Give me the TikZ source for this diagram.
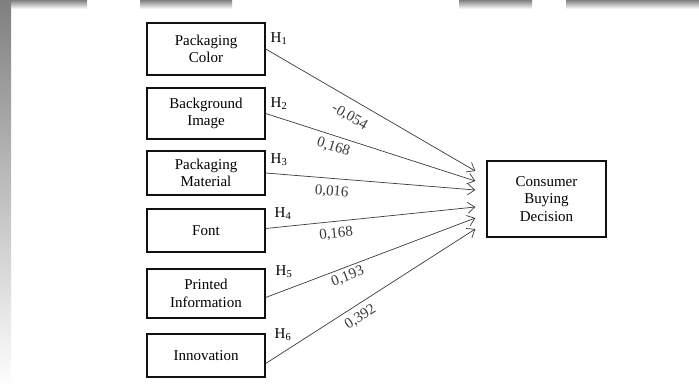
\documentclass[tikz,border=0pt]{standalone}
\usepackage{fontspec}
\setmainfont{Liberation Serif}
\usepackage{tikz}
\usetikzlibrary{positioning,arrows.meta,calc}
\definecolor{ink}{HTML}{111111}
\definecolor{wire}{HTML}{3A3A3A}
\definecolor{shade}{HTML}{CDCDCD}
\tikzset{
  box/.style={draw=ink,line width=1.4pt,minimum width=118pt,inner sep=1pt,align=center,font=\fontsize{15}{17.5}\selectfont},
  note/.style={font=\fontsize{15}{17}\selectfont,inner sep=2pt},
  hyp/.style={font=\fontsize{15}{17}\selectfont,inner sep=0pt},
  arr/.style={-{Straight Barb[length=7pt,width=11pt]},line width=0.7pt,wire},
}
\begin{document}
\begin{tikzpicture}[x=1pt,y=-1pt]
\useasboundingbox (0,0) rectangle (699,389);
% frame of the screenshot
\fill[shade] (0,0) rectangle (87,9);
\fill[shade] (140,0) rectangle (232,9);
\fill[shade] (459,0) rectangle (532,9);
\fill[shade] (566,0) rectangle (699,9);
\fill[shade] (0,0) rectangle (11,388);
\node[box,minimum height=52pt] (f1) at (206,49) {Packaging\\Color};
\node[box,minimum height=51pt] (f2) at (206,113.5) {Background\\Image};
\node[box,minimum height=44pt] (f3) at (206,173) {Packaging\\Material};
\node[box,minimum height=43pt] (f4) at (206,230.5) {Font};
\node[box,minimum height=49pt] (f5) at (206,293.5) {Printed\\Information};
\node[box,minimum height=43pt] (f6) at (206,355.5) {Innovation};
\node[box,minimum width=119pt,minimum height=76pt] (y) at (546.5,199) {Consumer\\Buying\\Decision};
\node[hyp] (h1) at (279,39) {H\textsubscript{1}};
\node[hyp] (h2) at (279,104) {H\textsubscript{2}};
\node[hyp] (h3) at (279,160) {H\textsubscript{3}};
\node[hyp] (h4) at (283,214) {H\textsubscript{4}};
\node[hyp] (h5) at (284,272) {H\textsubscript{5}};
\node[hyp] (h6) at (283,335) {H\textsubscript{6}};
\coordinate (t1) at ($(y.west)+(-11,-28)$);
\coordinate (t2) at ($(y.west)+(-11,-18)$);
\coordinate (t3) at ($(y.west)+(-11,-9)$);
\coordinate (t4) at ($(y.west)+(-11,8)$);
\coordinate (t5) at ($(y.west)+(-11,19)$);
\coordinate (t6) at ($(y.west)+(-11,30)$);
\draw[arr] (f1.east) -- node[note,below=8pt,sloped,pos=.44]{-0,054} (t1);
\draw[arr] (f2.east) -- node[note,below=3pt,sloped,pos=.34]{0,168} (t2);
\draw[arr] (f3.east) -- node[note,below=5pt,sloped,pos=.32]{0,016} (t3);
\draw[arr] ([yshift=2pt]f4.east) -- node[note,below=4pt,sloped,pos=.33]{0,168} (t4);
\draw[arr] ([yshift=-4pt]f5.east) -- node[note,below=1pt,sloped,pos=.375]{0,193} (t5);
\draw[arr] ([yshift=-8pt]f6.east) -- node[note,below=4pt,sloped,pos=.42]{0,392} (t6);
\end{tikzpicture}
\end{document}
